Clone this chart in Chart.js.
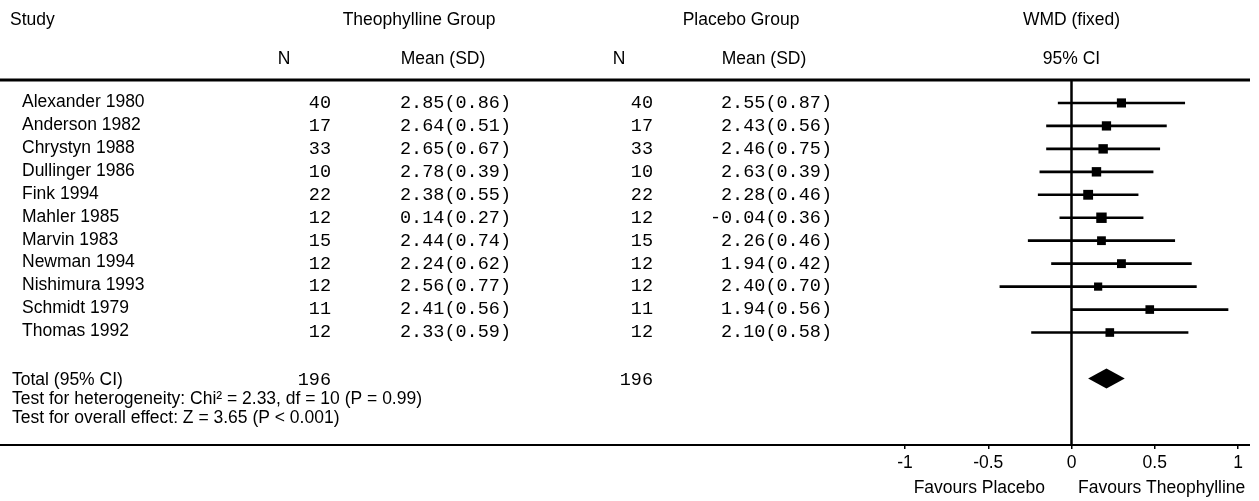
<!DOCTYPE html>
<html>
<head>
<meta charset="utf-8">
<script src="https://cdn.jsdelivr.net/npm/chart.js@4"></script>
<style>
  html, body { margin: 0; padding: 0; background: #fff; }
  canvas { display: block; }
</style>
</head>
<body>
<canvas id="forest" width="1259" height="501"></canvas>
<script>
// datos de los estudios
const studies = ['Alexander 1980', 'Anderson 1982', 'Chrystyn 1988', 'Dullinger 1986', 'Fink 1994',
  'Mahler 1985', 'Marvin 1983', 'Newman 1994', 'Nishimura 1993', 'Schmidt 1979', 'Thomas 1992'];
const theoN = [40, 17, 33, 10, 22, 12, 15, 12, 12, 11, 12];
const theoMean = [2.85, 2.64, 2.65, 2.78, 2.38, 0.14, 2.44, 2.24, 2.56, 2.41, 2.33];
const theoSD = [0.86, 0.51, 0.67, 0.39, 0.55, 0.27, 0.74, 0.62, 0.77, 0.56, 0.59];
const placN = [40, 17, 33, 10, 22, 12, 15, 12, 12, 11, 12];
const placMean = [2.55, 2.43, 2.46, 2.63, 2.28, -0.04, 2.26, 1.94, 2.40, 1.94, 2.10];
const placSD = [0.87, 0.56, 0.75, 0.39, 0.46, 0.36, 0.46, 0.42, 0.70, 0.56, 0.58];

// WMD e IC 95%
const wmd = [0.30, 0.21, 0.19, 0.15, 0.10, 0.18, 0.18, 0.30, 0.16, 0.47, 0.23];
const ciLow = [-0.08, -0.15, -0.15, -0.19, -0.20, -0.07, -0.26, -0.12, -0.43, 0.00, -0.24];
const ciHigh = [0.68, 0.57, 0.53, 0.49, 0.40, 0.43, 0.62, 0.72, 0.75, 0.94, 0.70];
const weights = [8.59, 9.52, 10.48, 10.56, 13.75, 19.04, 6.35, 6.88, 3.56, 5.64, 5.63];

// total
const totalTheoN = 196;
const totalPlacN = 196;
const pooled = [0.10, 0.21, 0.32]; // low, mean, high
const footerLines = ['Test for heterogeneity: Chi\u00b2 = 2.33, df = 10 (P = 0.99)',
  'Test for overall effect: Z = 3.65 (P < 0.001)'];

const xTicks = [-1, -0.5, 0, 0.5, 1];

const sans = '"Liberation Sans", Arial, sans-serif';
const mono = '"Liberation Mono", "Courier New", monospace';
const totalRow = studies.length + 1;

function fmt(m, sd) {
  return m.toFixed(2) + '(' + sd.toFixed(2) + ')';
}

function txt(ctx, s, x, y, align, font) {
  ctx.font = font;
  ctx.textAlign = align;
  ctx.fillText(s, x, y);
}

const forestPlugin = {
  id: 'forest',
  beforeDraw(chart) {
    const ctx = chart.ctx;
    ctx.save();
    ctx.fillStyle = '#fff';
    ctx.fillRect(0, 0, chart.width, chart.height);
    ctx.restore();
  },
  beforeDatasetsDraw(chart) {
    const { ctx, chartArea, scales: { x } } = chart;
    const x0 = x.getPixelForValue(0);
    ctx.save();
    ctx.strokeStyle = '#000';
    ctx.lineWidth = 2.5;
    ctx.beginPath();
    ctx.moveTo(x0, chartArea.top);
    ctx.lineTo(x0, chartArea.bottom);
    ctx.stroke();
    ctx.lineWidth = 3;
    ctx.beginPath();
    ctx.moveTo(0, chartArea.top);
    ctx.lineTo(1250, chartArea.top);
    ctx.stroke();
    ctx.lineWidth = 2;
    ctx.beginPath();
    ctx.moveTo(0, chartArea.bottom);
    ctx.lineTo(1250, chartArea.bottom);
    ctx.stroke();
    ctx.restore();
  },
  afterDatasetsDraw(chart) {
    const { ctx, scales: { x, y } } = chart;
    ctx.save();
    ctx.fillStyle = '#000';
    ctx.textBaseline = 'middle';

    // diamante del total
    const yt = y.getPixelForValue(totalRow);
    ctx.beginPath();
    ctx.moveTo(x.getPixelForValue(pooled[0]), yt);
    ctx.lineTo(x.getPixelForValue(pooled[1]), yt - 10);
    ctx.lineTo(x.getPixelForValue(pooled[2]), yt);
    ctx.lineTo(x.getPixelForValue(pooled[1]), yt + 10);
    ctx.closePath();
    ctx.fill();

    const fs = '17.5px ' + sans;
    const fm = '18.5px ' + mono;
    const xc = x.getPixelForValue(0);

    // encabezados
    txt(ctx, 'Study', 10, 20, 'left', fs);
    txt(ctx, 'Theophylline Group', 419, 20, 'center', fs);
    txt(ctx, 'Placebo Group', 741, 20, 'center', fs);
    txt(ctx, 'WMD (fixed)', xc, 20, 'center', fs);
    txt(ctx, 'N', 284, 59, 'center', fs);
    txt(ctx, 'Mean (SD)', 443, 59, 'center', fs);
    txt(ctx, 'N', 619, 59, 'center', fs);
    txt(ctx, 'Mean (SD)', 764, 59, 'center', fs);
    txt(ctx, '95% CI', xc, 59, 'center', fs);

    // filas de estudios
    studies.forEach((s, i) => {
      const yy = y.getPixelForValue(i);
      txt(ctx, s, 22, yy - 1, 'left', fs);
      txt(ctx, String(theoN[i]), 331, yy, 'right', fm);
      txt(ctx, fmt(theoMean[i], theoSD[i]), 511, yy, 'right', fm);
      txt(ctx, String(placN[i]), 653, yy, 'right', fm);
      txt(ctx, fmt(placMean[i], placSD[i]), 832, yy, 'right', fm);
    });

    // total y pruebas
    txt(ctx, 'Total (95% CI)', 12, yt + 2, 'left', fs);
    txt(ctx, String(totalTheoN), 331, yt + 2, 'right', fm);
    txt(ctx, String(totalPlacN), 653, yt + 2, 'right', fm);
    footerLines.forEach((s, k) => {
      txt(ctx, s, 12, yt + 21 + 19 * k, 'left', fs);
    });

    // etiquetas bajo el eje
    txt(ctx, 'Favours Placebo', 1045, 488, 'right', fs);
    txt(ctx, 'Favours Theophylline', 1078, 488, 'left', fs);
    ctx.restore();
  }
};

const ctxForest = document.getElementById('forest');

new Chart(ctxForest, {
  type: 'scatter',
  data: {
    datasets: [{
      type: 'scatter',
      label: 'WMD',
      data: wmd.map((v, i) => ({ x: v, y: i })),
      pointStyle: 'rect',
      pointRadius: weights.map(w => (6.5 + 0.9 * Math.sqrt(w)) / Math.SQRT2),
      pointHoverRadius: weights.map(w => (6.5 + 0.9 * Math.sqrt(w)) / Math.SQRT2),
      backgroundColor: '#000',
      borderWidth: 0,
      order: 0
    }, {
      type: 'bar',
      label: 'IC 95%',
      indexAxis: 'y',
      data: ciLow.map((lo, i) => ({ x: [lo, ciHigh[i]], y: i })),
      backgroundColor: '#000',
      borderWidth: 0,
      barThickness: 2,
      order: 1
    }]
  },
  options: {
    responsive: false,
    animation: false,
    devicePixelRatio: 1,
    layout: { padding: { left: 905, right: 21, top: 80, bottom: 0 } },
    plugins: { legend: { display: false }, tooltip: { enabled: false } },
    events: [],
    scales: {
      x: {
        type: 'linear',
        min: -1,
        max: 1,
        afterBuildTicks: s => { s.ticks = xTicks.map(v => ({ value: v })); },
        border: { display: false },
        grid: { display: true, drawOnChartArea: false, drawTicks: true, tickLength: 4, color: '#000', lineWidth: 1.5 },
        ticks: {
          padding: 4,
          color: '#000',
          maxRotation: 0,
          autoSkip: false,
          font: { family: sans, size: 17.5 },
          callback: v => String(v)
        },
        afterFit: s => { s.height = 56; }
      },
      y: {
        type: 'linear',
        reverse: true,
        min: -1,
        max: 14.9,
        offset: false,
        display: false,
        grid: { offset: false }
      }
    }
  },
  plugins: [forestPlugin]
});
</script>
</body>
</html>
